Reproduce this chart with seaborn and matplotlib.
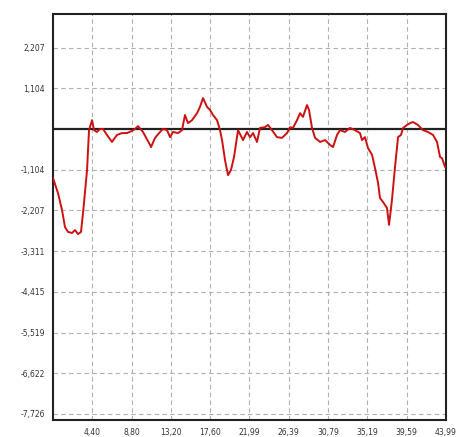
import matplotlib
matplotlib.use("Agg")
import matplotlib.pyplot as plt
import seaborn as sns
import numpy as np
import pandas as pd

x_vals = [0.00, 0.56, 1.01, 1.34, 1.68, 2.13, 2.46, 2.80, 3.13, 3.36, 3.81, 4.03, 4.37, 4.59,
          4.92, 5.26, 5.60, 6.04, 6.60, 7.16, 7.72, 8.28, 8.84, 9.18, 9.51, 10.07, 10.86,
          10.97, 11.42, 11.98, 12.31, 12.76, 13.10, 13.43, 13.99, 14.44, 14.77, 15.11, 15.56,
          16.12, 16.45, 16.79, 17.24, 17.57, 17.91, 18.36, 18.69, 18.92, 19.25, 19.59, 19.92,
          20.26, 20.71, 21.27, 21.71, 22.05, 22.39, 22.83, 23.17, 23.73, 24.06, 24.51, 25.07,
          25.63, 26.19, 26.53, 26.86, 27.31, 27.65, 27.98, 28.43, 28.65, 28.99, 29.33, 29.89,
          30.45, 31.00, 31.34, 31.79, 32.12, 32.68, 33.24, 33.80, 34.36, 34.59, 34.92, 35.26,
          35.71, 36.04, 36.38, 36.60, 36.94, 37.38, 37.61, 37.94, 38.28, 38.62, 38.95, 39.18,
          39.62, 39.96, 40.29, 40.85, 41.41, 41.97, 42.53, 42.98, 43.32, 43.54, 43.88]
y_vals = [-1.33, -1.74, -2.20, -2.66, -2.79, -2.82, -2.74, -2.85, -2.79, -2.28, -1.11, -0.03,
          0.24, -0.03, -0.08, 0.00, 0.00, -0.16, -0.35, -0.16, -0.11, -0.11, -0.05, 0.00, 0.08,
          -0.08, -0.43, -0.49, -0.24, -0.08, 0.00, -0.03, -0.22, -0.08, -0.11, -0.03, 0.38,
          0.16, 0.24, 0.43, 0.60, 0.84, 0.60, 0.52, 0.38, 0.24, -0.03, -0.30, -0.84, -1.25,
          -1.11, -0.76, -0.03, -0.30, -0.08, -0.22, -0.11, -0.35, 0.03, 0.05, 0.11, -0.03,
          -0.22, -0.24, -0.11, 0.05, 0.03, 0.24, 0.43, 0.33, 0.65, 0.52, 0.03, -0.24, -0.35,
          -0.30, -0.43, -0.49, -0.16, -0.03, -0.08, 0.03, -0.03, -0.11, -0.30, -0.22, -0.52,
          -0.70, -1.06, -1.46, -1.87, -1.98, -2.14, -2.60, -1.92, -1.03, -0.22, -0.16, 0.03,
          0.11, 0.16, 0.19, 0.11, -0.03, -0.08, -0.16, -0.35, -0.76, -0.79, -1.03]

x_ticks = [4.40, 8.80, 13.20, 17.60, 21.99, 26.39, 30.79, 35.19, 39.59, 43.99]
x_tick_labels = ["4,40", "8,80", "13,20", "17,60", "21,99", "26,39", "30,79", "35,19", "39,59", "43,99"]
y_ticks = [2.207, 1.104, -1.104, -2.207, -3.311, -4.415, -5.519, -6.622, -7.726]
y_tick_labels = ["2,207", "1,104", "-1,104", "-2,207", "-3,311", "-4,415", "-5,519", "-6,622", "-7,726"]

sns.set_style("white")
fig = plt.figure(figsize=(4.57, 4.37), dpi=100)
ax = fig.add_axes([0.116, 0.039, 0.86, 0.929])

df = pd.DataFrame({"x": x_vals, "y": y_vals})
ax.set_xlim(0, 43.99)
ax.set_ylim(-7.89, 3.12)

for t in x_ticks:
    ax.axvline(t, color="#b0b0b0", lw=0.8, ls=(0, (4, 3)), zorder=1)
for t in y_ticks:
    ax.axhline(t, color="#b0b0b0", lw=0.8, ls=(0, (4, 3)), zorder=1)
ax.axhline(0, color="#222222", lw=1.6, zorder=2)

sns.lineplot(data=df, x="x", y="y", ax=ax, color="#cc1111", lw=1.4, sort=False, zorder=3)

ax.set_xticks(x_ticks)
ax.set_xticklabels(x_tick_labels, fontsize=5.5, color="#333333", family="DejaVu Sans")
ax.set_yticks(y_ticks)
ax.set_yticklabels(y_tick_labels, fontsize=5.5, color="#333333", family="DejaVu Sans")
ax.tick_params(axis="both", length=0, pad=6)
ax.set_xlabel("")
ax.set_ylabel("")
for s in ax.spines.values():
    s.set_visible(True)
    s.set_color("#222222")
    s.set_linewidth(1.5)

fig.savefig("out.png", dpi=100, facecolor="white")
